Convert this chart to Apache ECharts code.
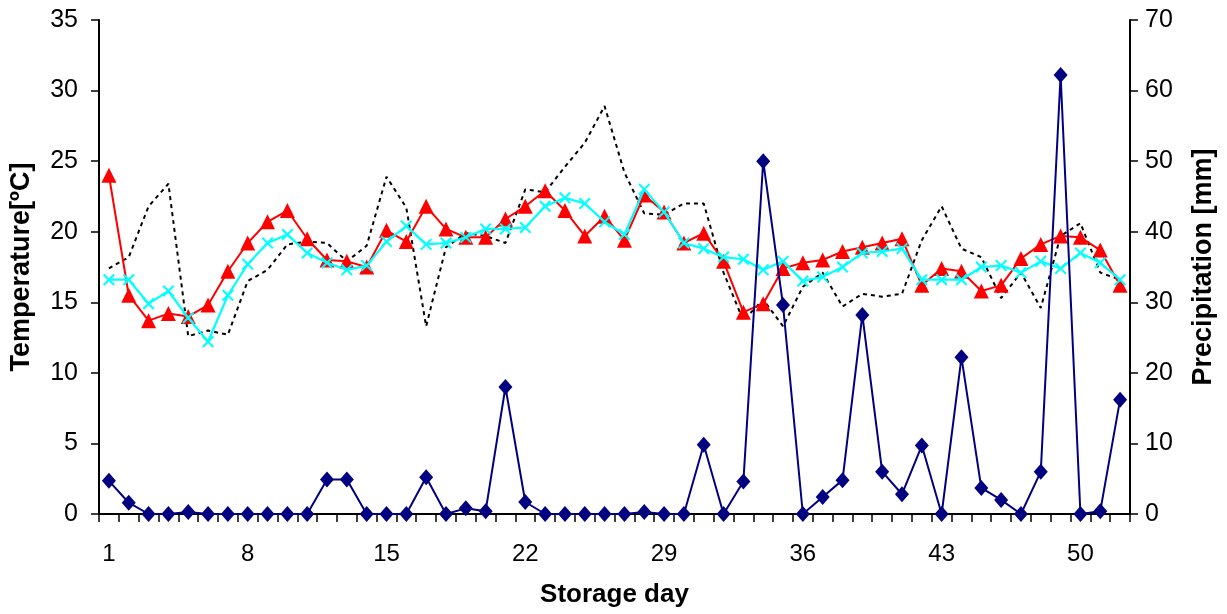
<!DOCTYPE html>
<html>
<head>
<meta charset="utf-8">
<script src="https://cdn.jsdelivr.net/npm/echarts@6/dist/echarts.min.js"></script>
<style>html,body{margin:0;padding:0;background:#fff;}#c{width:1227px;height:614px;}</style>
</head>
<body>
<div id="c"></div>
<script>
const days = Array.from({length: 52}, (_, i) => String(i + 1));
const tempRed = [24.0,15.5,13.7,14.2,14.0,14.8,17.2,19.2,20.7,21.5,19.5,18.0,17.9,17.5,20.1,19.3,21.8,20.2,19.6,19.6,20.9,21.8,22.9,21.5,19.7,21.1,19.4,22.6,21.4,19.2,19.9,17.9,14.3,14.9,17.4,17.8,18.0,18.6,18.9,19.2,19.5,16.2,17.4,17.2,15.8,16.2,18.1,19.1,19.7,19.6,18.7,16.2];
const tempCyan = [16.6,16.6,14.9,15.8,13.9,12.2,15.5,17.7,19.2,19.8,18.5,17.8,17.3,17.6,19.3,20.4,19.1,19.2,19.6,20.2,20.2,20.3,21.8,22.4,22.0,20.7,19.8,23.0,21.4,19.2,18.8,18.2,18.05,17.3,17.9,16.5,16.8,17.5,18.5,18.6,18.8,16.6,16.6,16.6,17.5,17.6,17.1,17.9,17.4,18.5,17.8,16.6];
const tempBlack = [17.4,18.2,21.8,23.4,12.6,13.0,12.7,16.5,17.3,19.1,19.3,19.2,17.9,19.0,23.9,21.7,13.3,18.9,19.9,19.7,19.2,23.0,22.8,24.6,26.3,28.9,24.2,21.3,21.2,22.0,22.0,17.1,13.7,15.2,13.3,16.1,17.1,14.7,15.6,15.4,15.6,19.4,21.8,18.8,18.2,15.3,17.1,14.6,19.7,20.6,17.1,16.6];
const precip = [4.7,1.6,0,0,0.3,0,0,0,0,0,0,4.9,4.9,0,0,0,5.2,0,0.8,0.4,18,1.7,0,0,0,0,0,0.3,0,0,9.8,0,4.6,50,29.6,0,2.4,4.8,28.2,6,2.8,9.7,0,22.2,3.7,2,0,6,62.2,0,0.4,16.2];
const tempTicks = [0, 35, 5];
const precipTicks = [0, 70, 10];

const font = 'Liberation Sans, Arial, sans-serif';
const xSym = 'path://M0,1.2L1.2,0L5,3.8L8.8,0L10,1.2L6.2,5L10,8.8L8.8,10L5,6.2L1.2,10L0,8.8L3.8,5Z';
const axisLine = {show: true, lineStyle: {color: '#000', width: 2}};
const chart = echarts.init(document.getElementById('c'), null, {renderer: 'canvas'});
chart.setOption({
  animation: false,
  backgroundColor: '#fff',
  grid: {left: 98, right: 97, top: 20, bottom: 100, containLabel: false},
  xAxis: {
    type: 'category', data: days, boundaryGap: true,
    name: 'Storage day', nameLocation: 'middle', nameGap: 68,
    nameTextStyle: {fontFamily: font, fontSize: 26, fontWeight: 'bold', color: '#000'},
    axisLine: axisLine,
    axisTick: {show: true, interval: 0, length: 8, lineStyle: {color: '#000', width: 1.5}},
    axisLabel: {interval: 6, margin: 28, fontFamily: font, fontSize: 24, color: '#000'},
    splitLine: {show: false}
  },
  yAxis: [{
    type: 'value', min: tempTicks[0], max: tempTicks[1], interval: tempTicks[2], position: 'left',
    name: 'Temperature[ºC]', nameLocation: 'middle', nameGap: 64, nameRotate: 90,
    nameTextStyle: {fontFamily: font, fontSize: 27, fontWeight: 'bold', color: '#000'},
    axisLine: axisLine,
    axisTick: {show: true, length: 8, lineStyle: {color: '#000', width: 1.5}},
    axisLabel: {margin: 21, fontFamily: font, fontSize: 25, color: '#000'},
    splitLine: {show: false}
  }, {
    type: 'value', min: precipTicks[0], max: precipTicks[1], interval: precipTicks[2], position: 'right',
    name: 'Precipitation [mm]', nameLocation: 'middle', nameGap: 60, nameRotate: 90,
    nameTextStyle: {fontFamily: font, fontSize: 27, fontWeight: 'bold', color: '#000'},
    axisLine: axisLine,
    axisTick: {show: true, length: 8, lineStyle: {color: '#000', width: 1.5}},
    axisLabel: {margin: 15, fontFamily: font, fontSize: 25, color: '#000'},
    splitLine: {show: false}
  }],
  series: [{
    type: 'line', data: tempBlack, yAxisIndex: 0, symbol: 'none',
    lineStyle: {color: '#000', width: 2, type: [4, 4]}, z: 2
  }, {
    type: 'line', data: tempRed, yAxisIndex: 0, symbol: 'triangle', symbolSize: 15, showAllSymbol: true,
    itemStyle: {color: '#ff0000'}, lineStyle: {color: '#ff0000', width: 2}, z: 3
  }, {
    type: 'line', data: tempCyan, yAxisIndex: 0, symbol: xSym, symbolSize: 12, showAllSymbol: true,
    itemStyle: {color: '#00ffff'}, lineStyle: {color: '#00ffff', width: 2.2}, z: 4
  }, {
    type: 'line', data: precip, yAxisIndex: 1, symbol: 'diamond', symbolSize: [14, 16], showAllSymbol: true,
    itemStyle: {color: '#000080'}, lineStyle: {color: '#000080', width: 2}, z: 5
  }]
});
</script>
</body>
</html>
